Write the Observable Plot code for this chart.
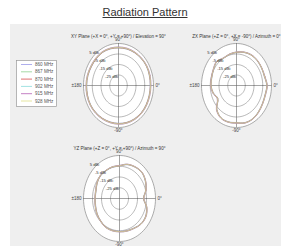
<!DOCTYPE html>
<html><head><meta charset="utf-8">
<script src="https://cdn.jsdelivr.net/npm/d3@7"></script>
<script src="https://cdn.jsdelivr.net/npm/@observablehq/plot@0.6"></script>
<style>
body{margin:0;background:#fff;font-family:"Liberation Sans",Arial,sans-serif;}
#wrap{position:relative;width:281px;height:248px;overflow:hidden;background:#fff;}
#panel{position:absolute;left:10px;top:24px;width:271px;height:222px;background:#efefef;}
#title{position:absolute;left:0;width:290px;top:6px;text-align:center;font-size:11px;text-decoration:underline;color:#333;}
.pp{position:absolute;overflow:visible;}
</style></head>
<body><div id="wrap"><div id="panel"></div><div id="title">Radiation Pattern</div></div>
<script>
const angles = [0,15,30,45,60,75,90,105,120,135,150,165,180,195,210,225,240,255,270,285,300,315,330,345];
const frequencies = ["860 MHz","867 MHz","870 MHz","902 MHz","915 MHz","928 MHz"];
const colors = ["#9a9ae8","#8fcf8f","#d84c4c","#8adada","#b45fb4","#dede88"];
const ringLevels = [5,-5,-15,-25];
const ringLabels = ["5 dBi","-5 dBi","-15 dBi","-25 dBi"];
const angleTicks = [0,90,180,270];
const angleLabels = ["0°","90°","±180","-90°"];
const titles = [
  "XY Plane (+X = 0°, +Y = +90°) / Elevation = 90°",
  "ZX Plane (+Z = 0°, +X = -90°) / Azimuth = 0°",
  "YZ Plane (+Z = 0°, +Y = +90°) / Azimuth = 90°"
];

// gain in dBi, per angle
const xy860 = [1.2,1.5,1.7,1.4,1.1,0.9,0.8,1.0,1.3,0.9,0.7,1.1,1.3,1.5,1.7,1.4,1.1,0.9,1.0,1.3,1.5,1.6,1.4,1.2];
const xy867 = [1.4,1.7,1.9,1.6,1.3,1.1,0.9,1.2,1.5,1.1,0.9,1.3,1.5,1.7,1.9,1.6,1.3,1.1,1.2,1.5,1.7,1.8,1.6,1.4];
const xy870 = [1.5,1.8,2.0,1.7,1.4,1.2,1.0,1.3,1.6,1.2,1.0,1.4,1.6,1.8,2.0,1.7,1.4,1.2,1.3,1.6,1.8,1.9,1.7,1.5];
const xy902 = [1.9,2.2,2.3,2.0,1.8,1.6,1.5,1.7,2.0,1.7,1.5,1.8,2.0,2.2,2.3,2.1,1.8,1.6,1.7,2.0,2.2,2.3,2.1,1.9];
const xy915 = [2.1,2.4,2.5,2.2,2.0,1.9,1.7,1.9,2.2,1.9,1.7,2.0,2.2,2.4,2.5,2.3,2.0,1.8,1.9,2.2,2.4,2.5,2.3,2.1];
const xy928 = [1.8,2.1,2.2,1.9,1.7,1.5,1.4,1.6,1.9,1.6,1.4,1.7,1.9,2.1,2.2,2.0,1.7,1.5,1.6,1.9,2.1,2.2,2.0,1.8];

const zx860 = [-0.5,-2.1,-2.0,-1.7,-1.6,-2.5,-3.6,-4.5,-5.3,-3.3,-4.9,-5.9,-6.0,-7.7,-10.5,-3.3,0.3,0.7,0.3,1.5,1.5,0.3,-0.9,-1.3];
const zx867 = [-0.3,-1.9,-1.9,-1.5,-1.5,-2.3,-3.5,-4.3,-5.1,-3.1,-4.7,-5.7,-5.9,-7.5,-10.3,-3.1,0.5,0.9,0.5,1.7,1.7,0.5,-0.7,-1.1];
const zx870 = [-0.2,-1.8,-1.8,-1.4,-1.4,-2.2,-3.4,-4.2,-5.0,-3.0,-4.6,-5.6,-5.8,-7.4,-10.2,-3.0,0.6,1.0,0.6,1.8,1.8,0.6,-0.6,-1.0];
const zx902 = [0.1,-1.5,-1.6,-1.2,-1.1,-2.0,-3.1,-4.0,-4.8,-2.8,-4.4,-5.4,-5.5,-7.1,-9.8,-2.7,0.8,1.2,0.9,2.0,2.0,0.8,-0.4,-0.7];
const zx915 = [0.2,-1.4,-1.5,-1.1,-1.0,-1.9,-3.0,-3.9,-4.7,-2.6,-4.2,-5.2,-5.3,-6.9,-9.6,-2.5,1.0,1.3,1.0,2.1,2.1,1.0,-0.3,-0.6];
const zx928 = [-0.1,-1.7,-1.7,-1.3,-1.3,-2.1,-3.2,-4.1,-4.9,-2.9,-4.5,-5.5,-5.6,-7.2,-10.0,-2.9,0.7,1.1,0.7,1.9,1.9,0.7,-0.5,-0.9];

const yz860 = [-8.5,-4.9,-2.1,-0.5,-1.3,-2.5,-4.9,-4.9,-5.3,-5.3,-6.5,-8.1,-8.1,-7.7,-6.5,-5.7,-4.5,-4.5,-4.5,-4.1,-3.3,-1.7,-1.7,-4.1];
const yz867 = [-8.3,-4.7,-1.9,-0.3,-1.1,-2.3,-4.7,-4.7,-5.1,-5.1,-6.3,-7.9,-7.9,-7.5,-6.3,-5.5,-4.3,-4.3,-4.3,-3.9,-3.1,-1.5,-1.5,-3.9];
const yz870 = [-8.2,-4.6,-1.8,-0.2,-1.0,-2.2,-4.6,-4.6,-5.0,-5.0,-6.2,-7.8,-7.8,-7.4,-6.2,-5.4,-4.2,-4.2,-4.2,-3.8,-3.0,-1.4,-1.4,-3.8];
const yz902 = [-7.9,-4.3,-1.6,0.0,-0.8,-2.0,-4.3,-4.4,-4.8,-4.7,-5.9,-7.5,-7.6,-7.1,-5.9,-5.1,-4.0,-3.9,-4.0,-3.5,-2.8,-1.2,-1.1,-3.5];
const yz915 = [-7.8,-4.2,-1.5,0.1,-0.7,-1.9,-4.2,-4.3,-4.7,-4.6,-5.8,-7.4,-7.5,-7.0,-5.8,-5.0,-3.9,-3.8,-3.9,-3.4,-2.7,-1.1,-1.0,-3.4];
const yz928 = [-8.0,-4.5,-1.7,-0.1,-0.9,-2.1,-4.5,-4.5,-4.9,-4.8,-6.0,-7.6,-7.7,-7.2,-6.0,-5.2,-4.1,-4.0,-4.1,-3.6,-2.9,-1.3,-1.2,-3.6];

const rMin = -35, rMax = 5;           // radial axis in dBi
const R = rMax - rMin;
const rad = a => a * Math.PI / 180;

function polarPlot(title, seriesList, cx, cy, rx, ry) {
  const m = 16;
  const rows = [];
  seriesList.forEach((vals, i) => vals.forEach((g, j) => {
    const r = g - rMin, a = rad(angles[j]);
    rows.push({freq: frequencies[i], x: r * Math.cos(a), y: r * Math.sin(a)});
  }));
  const ringPts = [];
  ringLevels.forEach((lv, i) => d3.range(0, 361, 4).forEach(a => {
    const r = lv - rMin;
    ringPts.push({ring: i, x: r * Math.cos(rad(a)), y: r * Math.sin(rad(a))});
  }));
  const outer = ringPts.filter(d => d.ring === 0);
  const tickPts = angleTicks.map((a, i) => ({label: angleLabels[i], x: R * Math.cos(rad(a)), y: R * Math.sin(rad(a)), a}));
  const ringLab = ringLevels.map((lv, i) => ({label: ringLabels[i], x: (lv - rMin) * Math.cos(rad(132)), y: (lv - rMin) * Math.sin(rad(132))}));
  const svg = Plot.plot({
    width: 2 * rx + 2 * m, height: 2 * ry + 2 * m,
    marginLeft: m, marginRight: m, marginTop: m, marginBottom: m,
    x: {domain: [-R, R], axis: null},
    y: {domain: [-R, R], axis: null},
    color: {domain: frequencies, range: colors},
    style: {overflow: "visible", background: "transparent", fontFamily: "Liberation Sans, Arial, sans-serif"},
    marks: [
      Plot.line(outer, {x: "x", y: "y", fill: "white", stroke: "#8a8a8a", strokeWidth: 0.7}),
      Plot.line(ringPts.filter(d => d.ring > 0), {x: "x", y: "y", z: "ring", stroke: "#8a8a8a", strokeWidth: 0.6}),
      Plot.ruleX([0], {stroke: "#666", strokeWidth: 0.6}),
      Plot.ruleY([0], {stroke: "#666", strokeWidth: 0.6}),
      Plot.line(rows, {x: "x", y: "y", z: "freq", stroke: "freq", curve: "catmull-rom-closed", strokeWidth: 0.65}),
      Plot.text(tickPts.filter(d => d.a === 90), {x: "x", y: "y", text: "label", dy: -3.5, fontSize: 4.5, fill: "#444"}),
      Plot.text(tickPts.filter(d => d.a === 270), {x: "x", y: "y", text: "label", dy: 3.5, fontSize: 4.5, fill: "#444"}),
      Plot.text(tickPts.filter(d => d.a === 0), {x: "x", y: "y", text: "label", dx: 2, textAnchor: "start", fontSize: 4.5, fill: "#444"}),
      Plot.text(tickPts.filter(d => d.a === 180), {x: "x", y: "y", text: "label", dx: -2, textAnchor: "end", fontSize: 4.5, fill: "#444"}),
      Plot.text(ringLab, {x: "x", y: "y", text: "label", dy: -1.5, dx: -1, fontSize: 4.2, fill: "#333"}),
      Plot.text([title], {frameAnchor: "top", dy: -9, fontSize: 4.5, fill: "#333"})
    ]
  });
  svg.classList.add("pp");
  svg.style.left = (cx - rx - m) + "px";
  svg.style.top = (cy - ry - m) + "px";
  document.getElementById("wrap").appendChild(svg);
}

polarPlot(titles[0], [xy860, xy867, xy870, xy902, xy915, xy928], 118, 85, 35, 42);
polarPlot(titles[1], [zx860, zx867, zx870, zx902, zx915, zx928], 236, 85, 35, 42);
polarPlot(titles[2], [yz860, yz867, yz870, yz902, yz915, yz928], 119, 198, 36, 43);

// legend
const lg = d3.select("#wrap").append("svg")
  .attr("width", 42).attr("height", 48)
  .style("position", "absolute").style("left", "16px").style("top", "60px");
lg.append("rect").attr("x", 0.5).attr("y", 0.5).attr("width", 40).attr("height", 46)
  .attr("fill", "white").attr("stroke", "#999").attr("stroke-width", 0.7);
frequencies.forEach((f, i) => {
  const y = 4.5 + i * 7.3;
  lg.append("line").attr("x1", 5).attr("x2", 16).attr("y1", y).attr("y2", y)
    .attr("stroke", colors[i]).attr("stroke-width", 0.8);
  lg.append("text").attr("x", 19).attr("y", y + 1.5).text(f)
    .attr("font-size", 4.6).attr("fill", "#555").attr("font-family", "Liberation Sans, Arial, sans-serif");
});
</script>
</body></html>
